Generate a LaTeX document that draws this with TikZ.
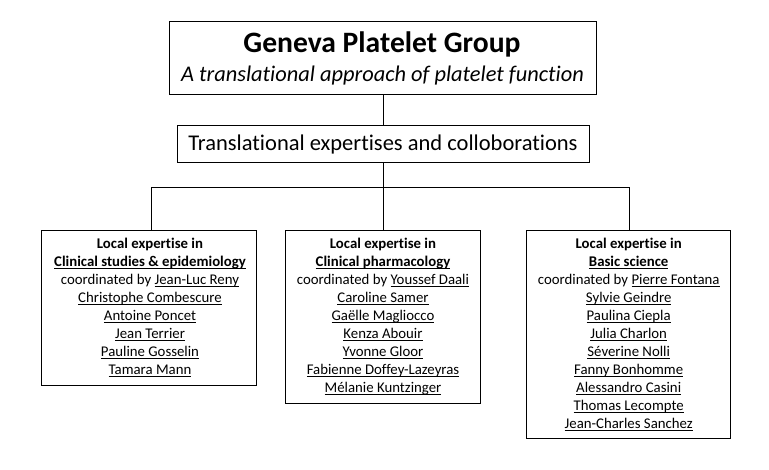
\documentclass[tikz,border=0pt]{standalone}
\usepackage{fontspec}
\setmainfont{Carlito}[RawFeature={-liga;-clig;-dlig}]
\newsavebox{\ulbox}
\newcommand\uln[1]{\sbox{\ulbox}{#1}\rlap{\rule[-2.6pt]{\wd\ulbox}{0.8pt}}\usebox{\ulbox}}
\begin{document}
\begin{tikzpicture}[x=1pt,y=-1pt,
  box/.style={draw=black, line width=0.9pt, inner sep=0pt, rectangle},
  link/.style={draw=black, line width=0.9pt},
  lines/.style={align=center, inner sep=0pt, anchor=north,
    font=\fontsize{14.8}{18}\selectfont},
  ]
\useasboundingbox[fill=white] (0,0) rectangle (769,470);
% top box
\node[box, minimum width=427pt, minimum height=72.5pt] (top) at (382.7,58) {};
\node[anchor=base, inner sep=0pt, font=\fontsize{29.6}{30}\selectfont\bfseries] (title) at (382,53) {Geneva Platelet Group};
\node[anchor=base, inner sep=0pt, font=\fontsize{22.4}{24}\selectfont\itshape] (subtitle) at (382.5,81.5) {A translational approach of platelet function};
% middle box
\node[box, minimum width=412pt, minimum height=36.3pt] (mid) at (383.3,143.9) {};
\node[anchor=base, inner sep=0pt, font=\fontsize{22.5}{24}\selectfont] (midtext) at (383,150.7) {Translational expertises and colloborations};
% lower boxes
\node[box, minimum width=215pt, minimum height=155pt, anchor=north] (cl) at (149.2,230.5) {};
\node[box, minimum width=195.7pt, minimum height=173pt, anchor=north] (cp) at (383,230.5) {};
\node[box, minimum width=204pt, minimum height=208pt, anchor=north] (bs) at (628.7,230.5) {};
\node[lines] (clt) at (150,236.3) {\rule{0pt}{12pt}\textbf{Local expertise in}\\
  \textbf{\uln{Clinical studies \& epidemiology}}\\
  coordinated by \uln{Jean-Luc Reny}\\
  \uln{Christophe Combescure}\\
  \uln{Antoine Poncet}\\
  \uln{Jean Terrier}\\
  \uln{Pauline Gosselin}\\
  \uln{Tamara Mann}};
\node[lines] (cpt) at (383,236.3) {\rule{0pt}{12pt}\textbf{Local expertise in}\\
  \textbf{\uln{Clinical pharmacology}}\\
  coordinated by \uln{Youssef Daali}\\
  \uln{Caroline Samer}\\
  \uln{Gaëlle Magliocco}\\
  \uln{Kenza Abouir}\\
  \uln{Yvonne Gloor}\\
  \uln{Fabienne Doffey-Lazeyras}\\
  \uln{Mélanie Kuntzinger}};
\node[lines] (bst) at (628.7,236.3) {\rule{0pt}{12pt}\textbf{Local expertise in}\\
  \textbf{\uln{Basic science}}\\
  coordinated by \uln{Pierre Fontana}\\
  \uln{Sylvie Geindre}\\
  \uln{Paulina Ciepla}\\
  \uln{Julia Charlon}\\
  \uln{Séverine Nolli}\\
  \uln{Fanny Bonhomme}\\
  \uln{Alessandro Casini}\\
  \uln{Thomas Lecompte}\\
  \uln{Jean-Charles Sanchez}};
% connectors
\coordinate (lj) at (151.7,187.3);
\coordinate (rj) at (629,187.3);
\draw[link] (top.south -| 383,0) -- (mid.north -| 383,0);
\draw[link] (mid.south -| 383,0) -- (cp.north -| 383,0);
\draw[link] (lj |- cl.north) -- (lj) -- (rj) -- (rj |- bs.north);
\end{tikzpicture}
\end{document}
